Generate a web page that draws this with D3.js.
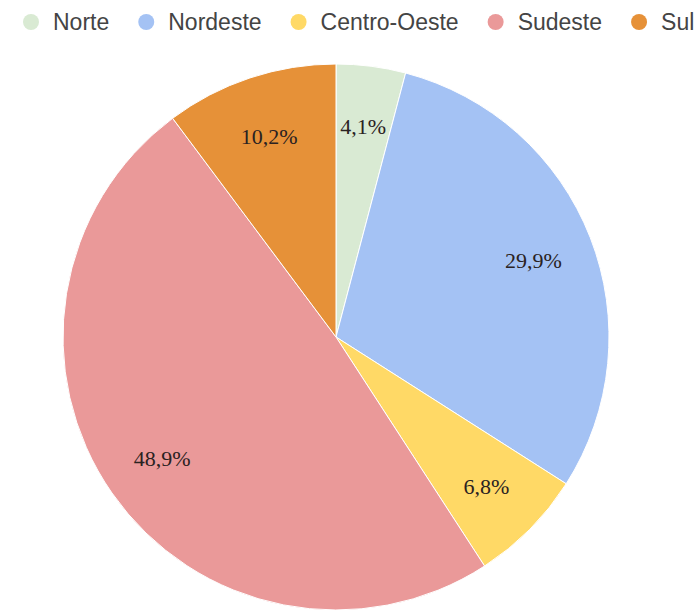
<!DOCTYPE html>
<html><head><meta charset="utf-8">
<script src="https://cdn.jsdelivr.net/npm/d3@7"></script>
<style>body{margin:0;background:#fff;overflow:hidden}</style>
</head><body>
<svg id="chart" width="700" height="611"></svg>
<script>
const regions = ["Norte", "Nordeste", "Centro-Oeste", "Sudeste", "Sul"];
const shares = [4.1, 29.9, 6.8, 48.9, 10.2];
const colors = ["#d9ead3", "#a4c2f4", "#ffd966", "#ea9999", "#e69138"];
const labels = ["4,1%", "29,9%", "6,8%", "48,9%", "10,2%"];

const svg = d3.select("#chart");
const cx = 336, cy = 337, r = 273;

const data = regions.map((name, i) => ({name, value: shares[i], color: colors[i], label: labels[i]}));
const pie = d3.pie().value(d => d.value).sort(null);
const arc = d3.arc().innerRadius(0).outerRadius(r);
const labelArc = d3.arc().innerRadius(212).outerRadius(212);

const g = svg.append("g").attr("transform", `translate(${cx},${cy})`);
const arcs = pie(data);
g.selectAll("path").data(arcs).join("path")
  .attr("d", arc).attr("fill", d => d.data.color)
  .attr("stroke", "#fff").attr("stroke-width", 1);

g.selectAll("text").data(arcs).join("text")
  .attr("transform", d => `translate(${labelArc.centroid(d)})`)
  .attr("text-anchor", "middle").attr("dy", "0.35em")
  .attr("font-family", "Liberation Serif, serif").attr("font-size", 22)
  .attr("fill", "#2a2222")
  .text(d => d.data.label);

// legend row: swatch + name, laid out left to right by measured text width
const lg = svg.append("g").attr("transform", "translate(0,22)");
let x = 31;
data.forEach(d => {
  const item = lg.append("g").attr("transform", `translate(${x},0)`);
  item.append("circle").attr("r", 8).attr("fill", d.color);
  const t = item.append("text").attr("x", 22).attr("dy", "0.35em")
    .attr("font-family", "Liberation Sans, Arial, sans-serif").attr("font-size", 23)
    .attr("fill", "#444").text(d.name);
  x += 22 + t.node().getComputedTextLength() + 37;
});
</script>
</body></html>
